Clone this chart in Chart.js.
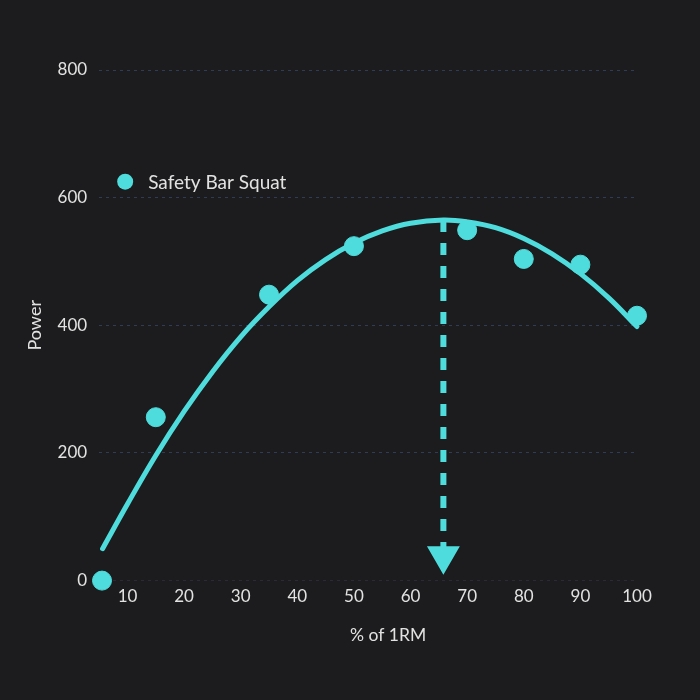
<!DOCTYPE html>
<html>
<head>
<meta charset="utf-8">
<script src="https://cdn.jsdelivr.net/npm/chart.js@4.4.1/dist/chart.umd.min.js"></script>
<style>
  html, body { margin: 0; padding: 0; background: #1c1c1e; }
  #wrap { width: 700px; height: 700px; }
</style>
</head>
<body>
<div id="wrap"><canvas id="chart"></canvas></div>
<script>
// measured lifts: % of 1RM vs power
const pctLoad = [5.5, 15, 35, 50, 70, 80, 90, 100];
const power = [0, 256, 448, 524, 549, 504, 495, 415];

// fitted trend curve
const fitX = [5.6, 10, 15, 20, 25, 30, 35, 40, 45, 50, 55, 60, 65.8, 70, 75, 80, 85, 90, 95, 100];
const fitY = [50, 120, 196, 265, 327, 382, 429, 470, 503, 529, 548, 560, 565, 562, 553, 536, 512, 481, 443, 398];

// peak marker (dashed arrow)
const peakX = [65.8, 65.8];
const peakY = [565, 39];

const yTicks = [0, 200, 400, 600, 800];
const seriesName = "Safety Bar Squat";
const xTitle = "% of 1RM";

const CYAN = "#4fdcdc";
const TEXT = "#e2e2e2";
const FONT = "Lato, 'Open Sans', sans-serif";

const pts = (xs, ys) => xs.map((x, i) => ({ x, y: ys[i] }));

// legend inside the plot (top-left) + x title, which sits right of centre
const annotations = {
  id: "annotations",
  afterDraw(chart) {
    const { ctx, chartArea } = chart;
    const x = chartArea.left + 26, y = chart.scales.y.getPixelForValue(625);
    ctx.save();
    ctx.fillStyle = CYAN;
    ctx.beginPath(); ctx.arc(x, y, 8, 0, Math.PI * 2); ctx.fill();
    ctx.fillStyle = TEXT;
    ctx.font = "19px " + FONT;
    ctx.textBaseline = "middle";
    ctx.fillText(seriesName, x + 23, y + 1);

    ctx.font = "17.5px " + FONT;
    ctx.textAlign = "center";
    ctx.fillText(xTitle, (chartArea.left + chartArea.right) / 2 + 20, chartArea.bottom + 55);
    ctx.restore();
  }
};

new Chart(document.getElementById("chart"), {
  type: "scatter",
  data: {
    datasets: [
      { label: "peak", data: pts(peakX, peakY), showLine: true, clip: false,
        borderColor: CYAN, backgroundColor: CYAN, borderWidth: 6, borderDash: [12, 11],
        pointStyle: "triangle", rotation: 180, pointRadius: [0, 13], pointHoverRadius: [0, 13], order: 3 },
      { label: "fit", data: pts(fitX, fitY), showLine: true, tension: 0.4, clip: false,
        borderColor: CYAN, borderWidth: 5, pointRadius: 0, borderCapStyle: "round", order: 2 },
      { label: seriesName, data: pts(pctLoad, power), clip: false,
        backgroundColor: CYAN, borderColor: CYAN, pointRadius: 9.5, pointHoverRadius: 9.5, order: 1 }
    ]
  },
  options: {
    responsive: true,
    maintainAspectRatio: false,
    animation: false,
    layout: { padding: { left: 20, right: 63, top: 70, bottom: 87 } },
    plugins: { legend: { display: false }, tooltip: { enabled: false } },
    scales: {
      x: {
        type: "linear", min: 5, max: 100,
        border: { display: false },
        grid: { display: false, drawTicks: false },
        ticks: { stepSize: 10, includeBounds: false, color: TEXT, font: { family: FONT, size: 17 }, padding: 6 },
        title: { display: false }
      },
      y: {
        min: 0, max: 800,
        border: { display: false, dash: [3, 4] },
        grid: { color: c => c.tick.value === 0 ? "#2a2b33" : "#2f3c55", lineWidth: 1, drawTicks: false },
        afterBuildTicks: s => { s.ticks = yTicks.map(v => ({ value: v })); },
        ticks: { color: TEXT, font: { family: FONT, size: 17 }, padding: 12 },
        title: { display: true, text: "Power", color: TEXT, font: { family: FONT, size: 18 }, padding: { top: 4, bottom: 0 } }
      }
    }
  },
  plugins: [annotations]
});
</script>
</body>
</html>
